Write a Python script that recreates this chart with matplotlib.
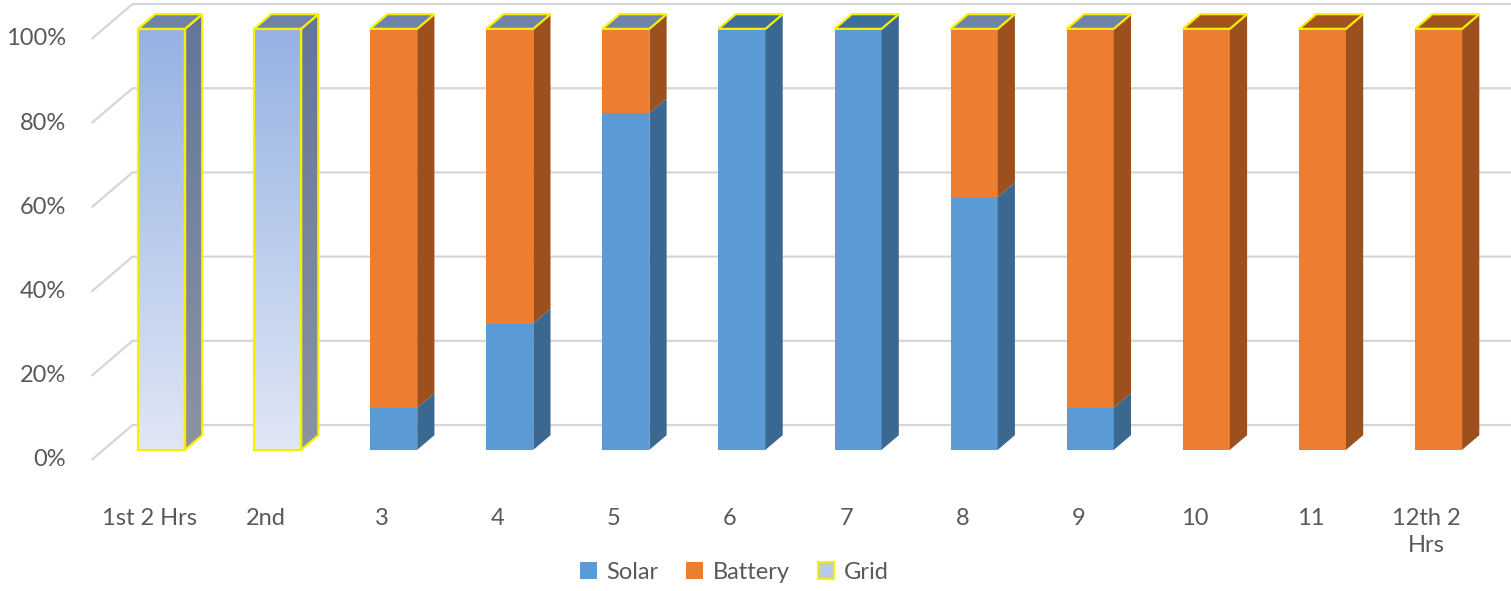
import numpy as np
import matplotlib.pyplot as plt
from matplotlib.patches import Polygon, Patch
from matplotlib.colors import LinearSegmentedColormap

plt.rcParams['font.family'] = ['Lato', 'DejaVu Sans']

# data
categories = ['1st 2 Hrs', '2nd', '3', '4', '5', '6', '7', '8', '9', '10', '11', '12th 2\nHrs']
solar = [0, 0, 10, 30, 80, 100, 100, 60, 10, 0, 0, 0]
battery = [0, 0, 90, 70, 20, 0, 0, 40, 90, 100, 100, 100]
grid = [100, 100, 0, 0, 0, 0, 0, 0, 0, 0, 0, 0]
yticks = [0, 20, 40, 60, 80, 100]
# which series paints the top cap of each column
top_series = ['Grid'] * 5 + ['Solar', 'Solar'] + ['Grid', 'Grid'] + ['Battery'] * 3

# colours: front, side, top
colors = {
    'Solar': ('#5b9bd5', '#3b6890', '#3e6e9a'),
    'Battery': ('#ed7d31', '#9c501d', '#a3541e'),
    'Grid': ('#a9bfe8', '#6c7b97', '#6f83a8'),
}
edge_yellow = '#f5f000'
text_gray = '#595959'

# fake 3d geometry (data units)
Dx, Dy = 0.353, 8.3      # full floor depth
f0, f1 = 0.29, 0.71      # front / back of the columns inside the depth
hw = 0.2025              # half width of a column

fig = plt.figure(figsize=(15.11, 5.91), dpi=100)
ax = fig.add_axes([0, 0, 1, 1])
ax.set_xlim(-1.2886, 11.726)
ax.set_ylim(-31.12, 109.26)
ax.axis('off')

n = len(categories)
x0, x1 = -0.5, n - 0.5

# gridlines: floor diagonal on the left + back wall
for v in yticks:
    ax.plot([x0, x0 + Dx, x1 + Dx], [v, v + Dy, v + Dy], color='#d6d6d6', lw=1.6, zorder=1,
            solid_capstyle='butt')
    ax.text(x0 - 0.22, v, f'{v}%', ha='right', va='center', fontsize=17, color=text_gray)

for i, lab in enumerate(categories):
    ax.text(i, -11.5, lab, ha='center', va='top', fontsize=17, color=text_gray, linespacing=1.35)

grad_front = LinearSegmentedColormap.from_list('gf', ['#dfe6f5', '#96b2e3'])
grad_side = LinearSegmentedColormap.from_list('gs', ['#8c93a2', '#63769a'])


def face(pts, fc, ec='none', lw=0, z=3, cmap=None):
    poly = Polygon(pts, closed=True, facecolor=fc if cmap is None else 'none',
                   edgecolor=ec, lw=lw, zorder=z + 0.1 if cmap is not None else z,
                   joinstyle='miter')
    ax.add_patch(poly)
    if cmap is not None:
        xs = [p[0] for p in pts]
        ys = [p[1] for p in pts]
        img = ax.imshow(np.linspace(0, 1, 100).reshape(-1, 1), cmap=cmap, origin='lower',
                        extent=[min(xs), max(xs), min(ys), max(ys)], aspect='auto',
                        zorder=z, interpolation='bilinear')
        clip = Polygon(pts, closed=True, transform=ax.transData)
        img.set_clip_path(clip)
    return poly


for i in range(n):
    xl = i + f0 * Dx - hw
    xr = i + f0 * Dx + hw
    ox = (f1 - f0) * Dx
    oy = (f1 - f0) * Dy
    base = f0 * Dy
    bottom = 0
    for name, vals in (('Solar', solar), ('Battery', battery), ('Grid', grid)):
        h = vals[i]
        if h <= 0:
            continue
        fc, sc, _ = colors[name]
        yb, yt = base + bottom, base + bottom + h
        front = [(xl, yb), (xr, yb), (xr, yt), (xl, yt)]
        side = [(xr, yb), (xr + ox, yb + oy), (xr + ox, yt + oy), (xr, yt)]
        if name == 'Grid':
            face(front, None, ec=edge_yellow, lw=1.6, cmap=grad_front)
            face(side, None, ec=edge_yellow, lw=1.6, cmap=grad_side)
        else:
            face(front, fc)
            face(side, sc)
        bottom += h
    yt = base + bottom
    top = [(xl, yt), (xr, yt), (xr + ox, yt + oy), (xl + ox, yt + oy)]
    face(top, colors[top_series[i]][2], ec=edge_yellow, lw=1.6, z=4)

handles = [Patch(facecolor=colors['Solar'][0], edgecolor='none', label='Solar'),
           Patch(facecolor=colors['Battery'][0], edgecolor='none', label='Battery'),
           Patch(facecolor='#b8c9ea', edgecolor=edge_yellow, lw=1.5, label='Grid')]
fig.legend(handles=handles, loc='center', bbox_to_anchor=(0.486, 0.032), ncol=3,
           frameon=False, fontsize=17, labelcolor=text_gray, handlelength=0.7,
           handleheight=0.7, handletextpad=0.4, columnspacing=1.2)

fig.savefig('out.png', dpi=100)
